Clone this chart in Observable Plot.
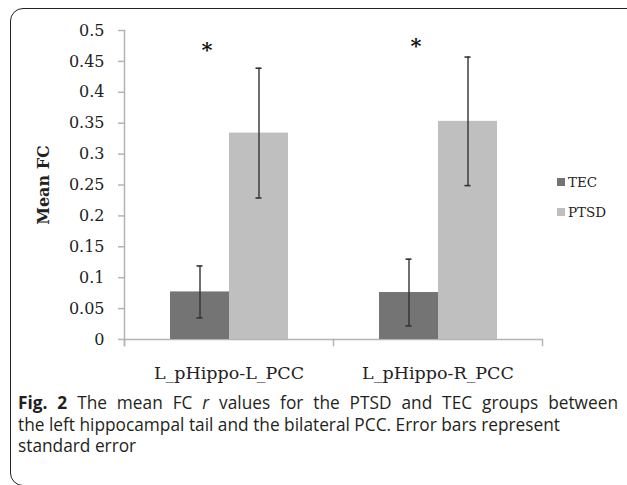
<!DOCTYPE html>
<html>
<head>
<meta charset="utf-8">
<script src="https://cdn.jsdelivr.net/npm/d3@7"></script>
<script src="https://cdn.jsdelivr.net/npm/@observablehq/plot@0.6"></script>
<style>
  html, body { margin: 0; padding: 0; background: #fff; }
  #wrap { width: 627px; height: 485px; position: relative; overflow: hidden; }
  .layer { position: absolute; left: 0; top: 0; }
  .layer svg { background: transparent !important; }
  #border { position: absolute; left: 10px; top: 8px; width: 630px; height: 478px;
            border: 1.5px solid #222; border-radius: 13px; box-sizing: border-box; pointer-events: none; }
  #plotbox svg [aria-label="y-axis label"] text, #plotbox svg [aria-label="y-axis label"] { font-weight: bold; }
  #leg { position: absolute; left: 557px; top: 174px; font-family: "DejaVu Serif", serif;
         font-size: 13.5px; color: #222; }
  #leg .row { display: flex; align-items: center; height: 16px; margin-bottom: 14px; }
  #leg .sw { width: 8px; height: 8px; margin-right: 3px; }
  #cap { position: absolute; left: 18px; top: 392px; width: 600px; font-family: "Open Sans", sans-serif;
         font-size: 17.3px; line-height: 21.7px; color: #231f20; white-space: nowrap; }
  #cap .l1 { text-align: justify; text-align-last: justify; white-space: normal; }
</style>
</head>
<body>
<div id="wrap">
<div id="axisA" class="layer"></div>
<div id="axisB" class="layer"></div>
<div id="plotbox" class="layer"></div>
<div id="leg"></div>
<div id="cap"><div class="l1"><b>Fig. 2</b> The mean FC <i>r</i> values for the PTSD and TEC groups between</div><div>the left hippocampal tail and the bilateral PCC. Error bars represent</div><div>standard error</div></div>
<div id="border"></div>
</div>
<script>
// ---- data ----
const categories = ["L_pHippo-L_PCC", "L_pHippo-R_PCC"];
const groups = ["TEC", "PTSD"];
const tecMean = [0.077, 0.076];
const tecSE = [0.042, 0.054];
const ptsdMean = [0.334, 0.353];
const ptsdSE = [0.105, 0.104];
const sigY = [0.468, 0.474];          // asterisk positions
const yTicks = [0, 0.05, 0.1, 0.15, 0.2, 0.25, 0.3, 0.35, 0.4, 0.45, 0.5];
const colors = ["#747474", "#bfbfbf"];
const yLabel = "Mean FC";

// tables built from arrays
const rows = [];
categories.forEach((c, i) => {
  rows.push({cat: c, group: "TEC", mean: tecMean[i], se: tecSE[i]});
  rows.push({cat: c, group: "PTSD", mean: ptsdMean[i], se: ptsdSE[i]});
});
const stars = categories.map((c, i) => ({cat: c, group: "TEC", y: sigY[i], t: "*"}));
const baseRows = categories.map(c => ({cat: c, base: 0}));

const axisColor = "#b4b4b4";
const frameH = 309; // plot frame height (390 - 30 - 51)

// shared layout / scales
const common = {
  width: 627, height: 390,
  marginLeft: 123, marginRight: 85, marginTop: 30, marginBottom: 51,
  style: {fontFamily: "DejaVu Serif, serif", fontSize: "16px", color: "#222", background: "transparent"}
};
const scalesNoAxes = {
  fx: {domain: categories, padding: 0, axis: null, label: null},
  x: {domain: groups, paddingInner: 0, paddingOuter: 0.746, axis: null},
  y: {domain: [0, 0.5], axis: null, label: null}
};

// layer A: baseline and y-axis line
const layerA = Plot.plot({
  ...common, ...scalesNoAxes,
  marks: [
    Plot.ruleY(baseRows, {fx: "cat", y: "base", stroke: axisColor, strokeWidth: 1.5}),
    Plot.frame({anchor: "left", facetAnchor: "left", stroke: axisColor, strokeWidth: 1.5, insetBottom: -6})
  ]
});
document.getElementById("axisA").appendChild(layerA);

// layer B: category boundary ticks below the baseline
const layerB = Plot.plot({
  ...common, ...scalesNoAxes,
  marks: [
    Plot.ruleY(baseRows, {fx: "cat", y: "base", stroke: "none"}),
    Plot.frame({anchor: "left", stroke: axisColor, strokeWidth: 1.5, insetTop: frameH, insetBottom: -6}),
    Plot.frame({anchor: "right", facetAnchor: "right", stroke: axisColor, strokeWidth: 1.5, insetTop: frameH, insetBottom: -6})
  ]
});
document.getElementById("axisB").appendChild(layerB);

// main layer: bars, error bars, labels
const plotEl = Plot.plot({
  ...common,
  fx: {domain: categories, padding: 0, label: null},
  x: {domain: groups, paddingInner: 0, paddingOuter: 0.746, axis: null},
  y: {domain: [0, 0.5], label: null},
  color: {domain: groups, range: colors},
  marks: [
    Plot.barY(rows, {fx: "cat", x: "group", y: "mean", fill: "group"}),
    Plot.ruleX(rows, {fx: "cat", x: "group", y1: d => d.mean - d.se, y2: d => d.mean + d.se, stroke: "#333", strokeWidth: 1.4}),
    Plot.tickY(rows, {fx: "cat", x: "group", y: d => d.mean - d.se, stroke: "#333", strokeWidth: 1.6, insetLeft: 26.5, insetRight: 26.5}),
    Plot.tickY(rows, {fx: "cat", x: "group", y: d => d.mean + d.se, stroke: "#333", strokeWidth: 1.6, insetLeft: 26.5, insetRight: 26.5}),
    Plot.text(stars, {fx: "cat", x: "group", y: "y", text: "t", dx: 7, fontSize: 21, fontWeight: "bold", fill: "#111"}),
    Plot.axisY({ticks: yTicks, tickFormat: d => String(+d.toFixed(2)), tickSize: 6, tickPadding: 14,
                stroke: axisColor, strokeWidth: 1.5, label: yLabel, labelArrow: "none", labelAnchor: "center", labelOffset: 87, fontSize: 16}),
    Plot.axisFx({anchor: "bottom", tickSize: 0, tickPadding: 27, label: null, fontSize: 17.5})
  ]
});
document.getElementById("plotbox").appendChild(plotEl);

// legend
const legSel = d3.select("#leg");
groups.forEach((gname, i) => {
  const r = legSel.append("div").attr("class", "row");
  r.append("div").attr("class", "sw").style("background", colors[i]);
  r.append("span").text(gname);
});
</script>
</body>
</html>
